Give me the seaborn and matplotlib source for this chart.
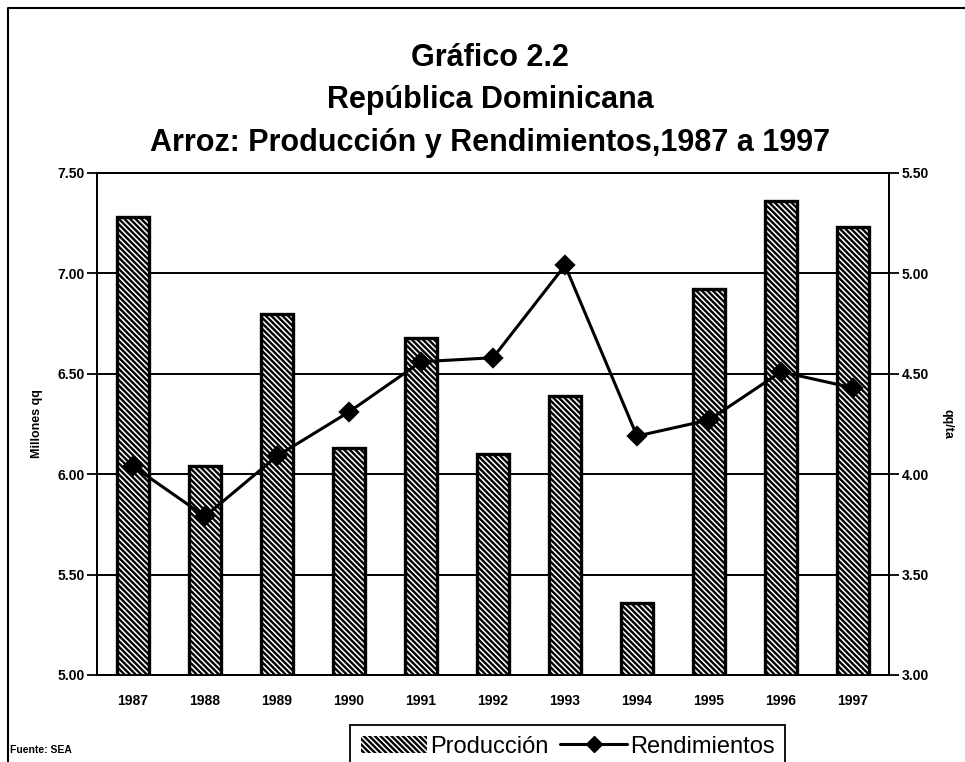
"""Gráfico 2.2 - República Dominicana, arroz: producción y rendimientos 1987-1997."""

import matplotlib
matplotlib.use('Agg')
import matplotlib.pyplot as plt
from matplotlib.patches import Patch
from matplotlib.lines import Line2D
from matplotlib.ticker import FixedLocator
import pandas as pd
import seaborn as sns

# Data
years = ['1987', '1988', '1989', '1990', '1991', '1992',
         '1993', '1994', '1995', '1996', '1997']
produccion = [7.28, 6.04, 6.80, 6.13, 6.68, 6.10, 6.39, 5.36, 6.92, 7.36, 7.23]
rendimientos = [4.04, 3.79, 4.09, 4.31, 4.56, 4.58, 5.04, 4.19, 4.27, 4.51, 4.43]

left_ticks = [5.00, 5.50, 6.00, 6.50, 7.00, 7.50]
right_ticks = [3.00, 3.50, 4.00, 4.50, 5.00, 5.50]

df = pd.DataFrame({'year': years, 'prod': produccion, 'rend': rendimientos})

sns.set_style('white')
plt.rcParams['font.family'] = ['Liberation Sans', 'DejaVu Sans']
plt.rcParams['hatch.linewidth'] = 1.7
# seaborn greys the text; the scan is plain black
for key in ['text.color', 'axes.labelcolor', 'xtick.color', 'ytick.color']:
    plt.rcParams[key] = 'black'

HATCH = '\\' * 6

fig = plt.figure(figsize=(9.65, 7.62), dpi=100)
ax = fig.add_axes([97 / 965, 1 - 675 / 762, (889 - 97) / 965, (675 - 173) / 762])

# bars (left axis)
sns.barplot(data=df, x='year', y='prod', ax=ax, color='white', width=0.44,
            edgecolor='black', linewidth=2.4, hatch=HATCH, zorder=3)
ax.set_ylim(5.0, 7.5)
ax.set_xlim(-0.5, len(years) - 0.5)
ax.set_yticks(left_ticks)
ax.set_yticklabels([f'{v:.2f}' for v in left_ticks], fontsize=10, fontweight='bold')
ax.set_xticks(range(len(years)))
ax.set_xticklabels(years, fontsize=10, fontweight='bold')
ax.tick_params(axis='x', length=0, pad=14)
ax.xaxis.set_minor_locator(FixedLocator([i + 0.5 for i in range(len(years) - 1)]))
ax.tick_params(axis='x', which='minor', direction='out', length=4, width=1, color='black')
ax.tick_params(axis='y', direction='out', length=7, width=1.3, color='black', pad=2)
ax.set_xlabel('')
ax.set_ylabel('Millones qq', fontsize=9, fontweight='bold', labelpad=10)
ax.grid(axis='y', color='black', linewidth=1.4, zorder=1)
ax.set_axisbelow(True)
for side in ['left', 'right', 'bottom', 'top']:
    ax.spines[side].set_color('black')
    ax.spines[side].set_linewidth(1.3)

# line (right axis)
ax2 = ax.twinx()
sns.pointplot(data=df, x='year', y='rend', ax=ax2, color='black', markers='D',
              markersize=9, linewidth=2.2, zorder=5)
ax2.set_ylim(3.0, 5.5)
ax2.set_xlim(-0.5, len(years) - 0.5)
ax2.set_yticks(right_ticks)
ax2.set_yticklabels([f'{v:.2f}' for v in right_ticks], fontsize=10, fontweight='bold')
ax2.tick_params(axis='y', direction='out', length=7, width=1.3, color='black', pad=2)
ax2.set_ylabel('qq/ta', fontsize=9, fontweight='bold', rotation=270, labelpad=18)
ax2.set_xlabel('')
ax2.grid(False)
for side in ['left', 'right', 'bottom', 'top']:
    ax2.spines[side].set_color('black')
    ax2.spines[side].set_linewidth(1.3)

# titles
title_kw = dict(ha='center', va='center', fontsize=22, fontweight='bold')
fig.text(490 / 965, 1 - 58 / 762, 'Gráfico 2.2', **title_kw)
fig.text(490 / 965, 1 - 100 / 762, 'República Dominicana', **title_kw)
fig.text(490 / 965, 1 - 143 / 762, 'Arroz: Producción y Rendimientos,1987 a 1997', **title_kw)

fig.text(10 / 965, 1 - 750 / 762, 'Fuente: SEA', fontsize=7.5, fontweight='bold',
         ha='left', va='center')

# legend (its lower edge runs off the bottom, as in the scan)
handles = [
    Patch(facecolor='white', edgecolor='black', hatch=HATCH, linewidth=0),
    Line2D([0], [0], color='black', marker='D', markersize=8, linewidth=2.2),
]
leg = fig.legend(handles, ['Producción', 'Rendimientos'], loc='upper left',
                 bbox_to_anchor=(350 / 965, 1 - 725 / 762), ncol=2, fontsize=17,
                 frameon=True, fancybox=False, edgecolor='black', framealpha=1,
                 handlelength=2.8, handletextpad=0.15, columnspacing=0.5,
                 borderpad=0.45, borderaxespad=0)
leg.get_frame().set_linewidth(1.3)

# outer frame: only the top and left edges show in the scan
fig.add_artist(Line2D([8 / 965, 8 / 965, 1.0], [0.0, 1 - 8 / 762, 1 - 8 / 762],
                      transform=fig.transFigure, color='black', linewidth=1.5))

fig.savefig('out.png', dpi=100)
